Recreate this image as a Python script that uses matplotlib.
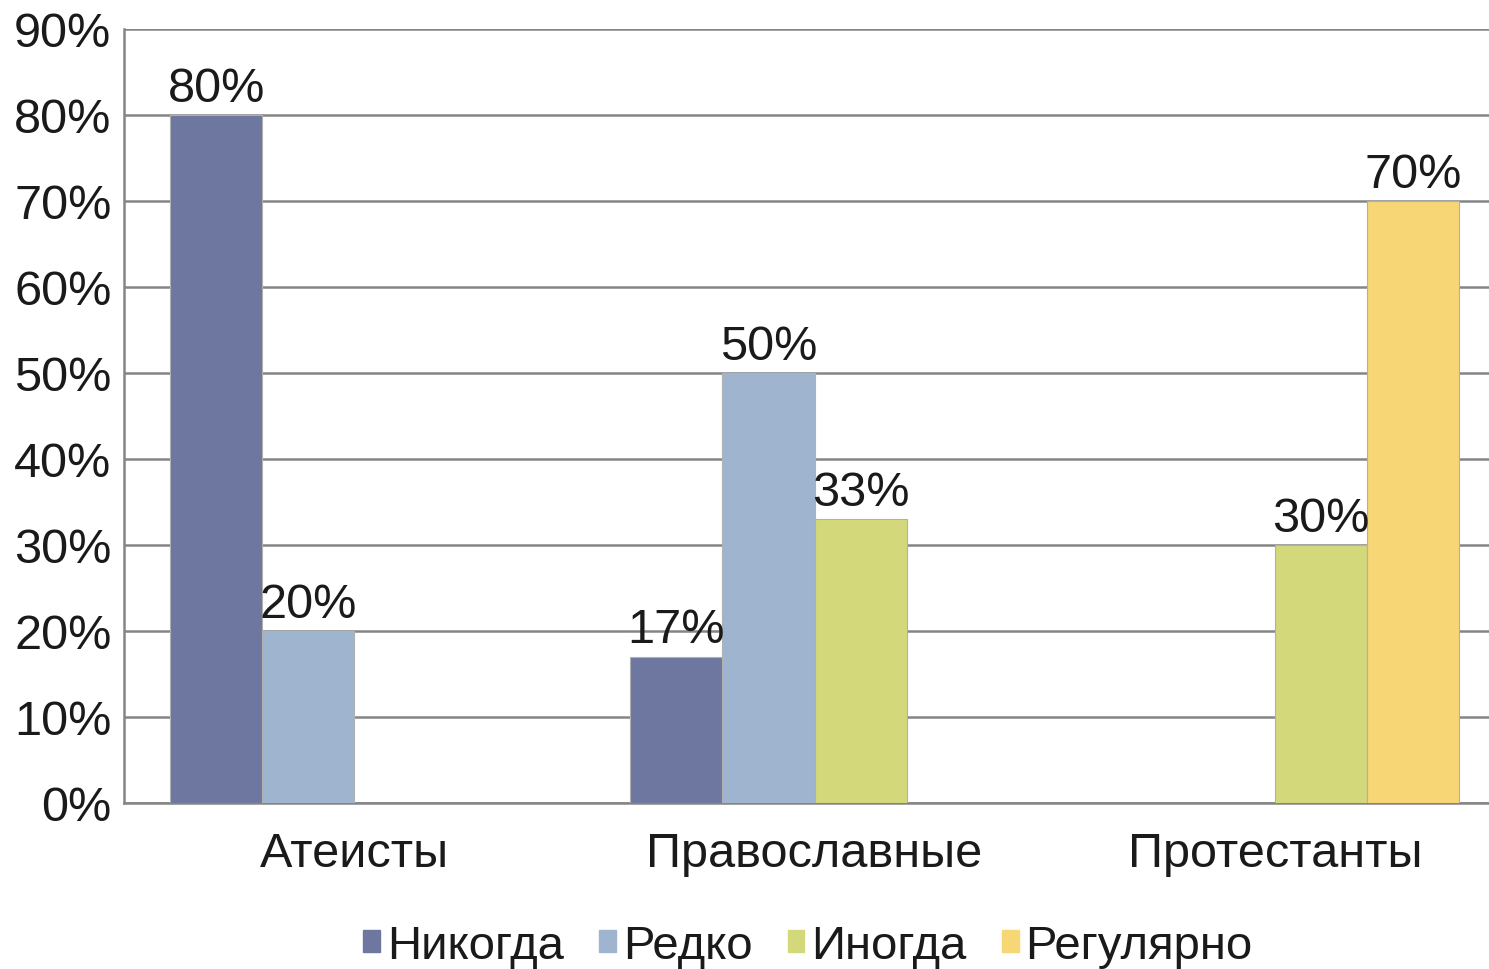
import matplotlib.pyplot as plt
import numpy as np

plt.rcParams['font.family'] = ['Liberation Sans', 'DejaVu Sans']

categories = ["Атеисты", "Православные", "Протестанты"]
series = ["Никогда", "Редко", "Иногда", "Регулярно"]
values = {
    "Никогда": [80, 17, 0],
    "Редко": [20, 50, 0],
    "Иногда": [0, 33, 30],
    "Регулярно": [0, 0, 70],
}
colors = ["#6d77a0", "#9fb5cf", "#d3d97a", "#f7d675"]
yticks = [0, 10, 20, 30, 40, 50, 60, 70, 80, 90]

fig = plt.figure(figsize=(14.89, 9.70), dpi=100)
ax = fig.add_axes([124 / 1489, 166 / 970, 1381 / 1489, 774 / 970])

x = np.arange(len(categories))
width = 0.2
for i, name in enumerate(series):
    offset = (i - 1.5) * width
    for j, v in enumerate(values[name]):
        if v == 0:
            continue
        ax.bar(x[j] + offset, v, width, color=colors[i], edgecolor="#b0b0b0",
               linewidth=0.8, zorder=3)
        ax.text(x[j] + offset, v + 0.5, f"{v}%", ha="center", va="bottom",
                fontsize=35, color="#1a1a1a", zorder=4)

ax.set_xlim(-0.5, 2.5)
ax.set_ylim(0, 90)
ax.set_yticks(yticks)
ax.set_yticklabels([f"{t}%" for t in yticks])
ax.set_xticks(x)
ax.set_xticklabels(categories)
ax.tick_params(axis="y", length=0, pad=9, labelsize=35, labelcolor="#1a1a1a")
ax.tick_params(axis="x", length=0, pad=20, labelsize=35, labelcolor="#1a1a1a")
ax.grid(axis="y", color="#858585", linewidth=1.8, zorder=0)
for s in ["top", "right"]:
    ax.spines[s].set_visible(False)
ax.spines["left"].set_color("#858585")
ax.spines["left"].set_linewidth(1.8)
ax.spines["bottom"].set_color("#858585")
ax.spines["bottom"].set_linewidth(1.8)

handles = [plt.Rectangle((0, 0), 1, 1, color=c) for c in colors]
fig.legend(handles, series, loc="center", ncol=4,
           bbox_to_anchor=(808 / 1489, 1 - 947 / 970), frameon=False,
           fontsize=34, handlelength=0.35, handleheight=0.35,
           handletextpad=0.15, columnspacing=0.75, labelcolor="#1a1a1a")

fig.savefig("out.png", dpi=100)
